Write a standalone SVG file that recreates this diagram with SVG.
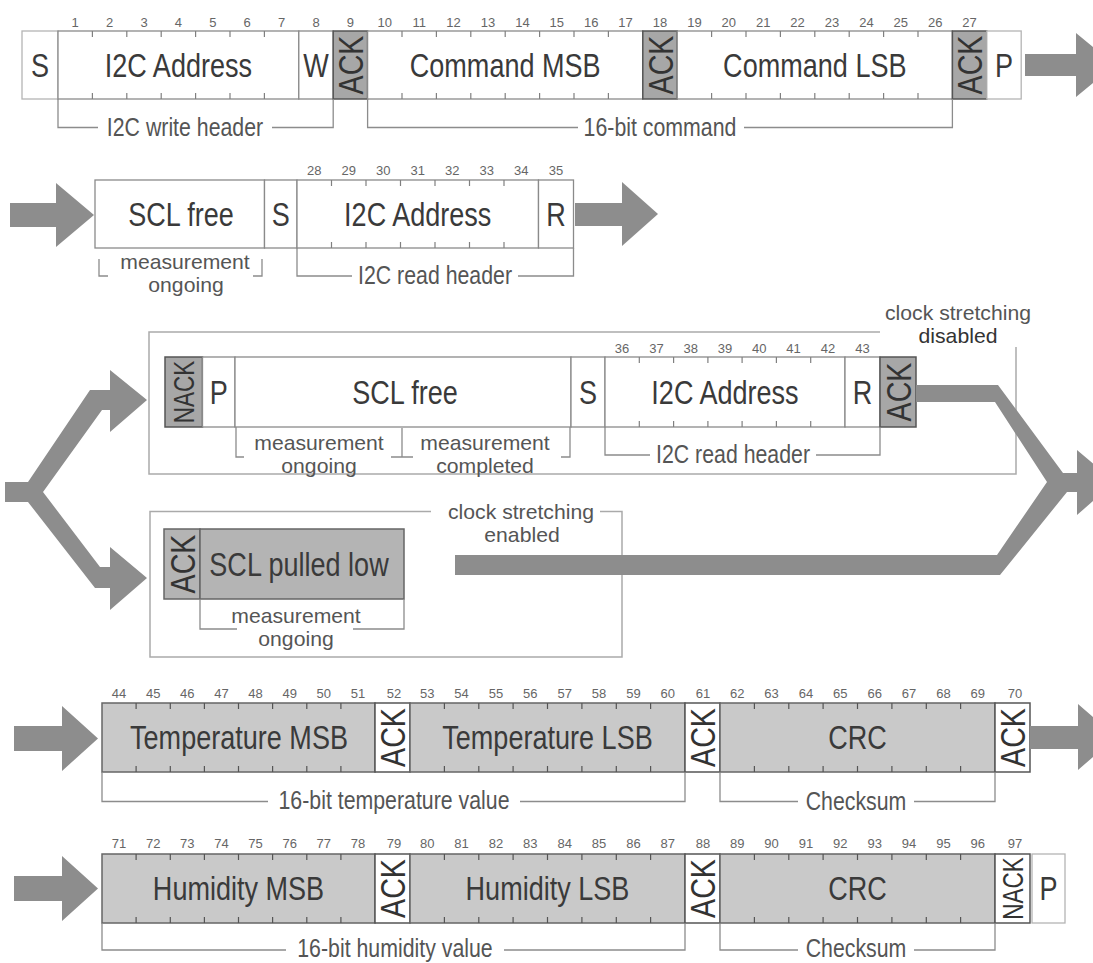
<svg xmlns="http://www.w3.org/2000/svg" width="1093" height="963" viewBox="0 0 1093 963">
<style>
text{font-family:"Liberation Sans",Arial,sans-serif;text-anchor:middle}
.m{font-size:33px;fill:#3a3a3a}
.n{font-size:13px;fill:#666}
.l{font-size:26px;fill:#555}
.l2{font-size:20px;fill:#555}
.v{font-size:35px;fill:#333}
.vn{font-size:30px;fill:#333}
.dk{fill:#333}
.f{fill:#fff;stroke:#8a8a8a;stroke-width:1.3}
.fl{fill:#fff;stroke:#b4b4b4;stroke-width:1.3}
.fw{fill:#fff;stroke:#555;stroke-width:1.5}
.g1{fill:#a7a7a7;stroke:#555;stroke-width:1.5}
.g2{fill:#c9c9c9;stroke:#666;stroke-width:1.5}
.g3{fill:#b4b4b4;stroke:#666;stroke-width:1.5}
.tk{fill:none;stroke:#808080;stroke-width:1.2}
.tkd{fill:none;stroke:#555;stroke-width:1.2}
.br{fill:none;stroke:#8c8c8c;stroke-width:1.3}
.ob{fill:none;stroke:#aaa;stroke-width:1.5}
.ar{fill:#8d8d8d}
</style>
<rect width="1093" height="963" fill="#fff"/>

<!-- outer frames -->
<g id="frame-stretch-disabled">
<path class="ob" d="M880 332H149V474H1016V347"/>
<text class="l2" transform="translate(958,320) scale(1.06,1)">clock stretching</text>
<text class="l2 dk" transform="translate(958,342.5) scale(1.06,1)">disabled</text>
</g>
<g id="frame-stretch-enabled">
<path class="ob" d="M431 511.5H150V657H622V511.5H600"/>
<text class="l2" transform="translate(521,519) scale(1.06,1)">clock stretching</text>
<text class="l2" transform="translate(522,541.5) scale(1.06,1)">enabled</text>
</g>

<!-- Row 1 -->
<g id="r1-start"><rect class="fl" x="22" y="31" width="36" height="68"/><text class="m" transform="translate(40,76.8) scale(.82,1)">S</text></g>
<g id="r1-addr"><rect class="f" x="58" y="31" width="240.8" height="68"/>
<path class="tk" d="M92.4 31v6M126.8 31v6M161.2 31v6M195.6 31v6M230 31v6M264.4 31v6M92.4 99v-6M126.8 99v-6M161.2 99v-6M195.6 99v-6M230 99v-6M264.4 99v-6"/>
<text class="m" transform="translate(178.4,76.8) scale(.82,1)">I2C Address</text></g>
<g id="r1-w"><rect class="f" x="298.8" y="31" width="34.4" height="68"/><text class="m" transform="translate(316,76.8) scale(.82,1)">W</text></g>
<g id="r1-ack1"><rect class="g1" x="333.2" y="31" width="34.4" height="68"/><text class="v" transform="translate(350.4,65) rotate(-90) scale(.82,1)" y="12.5">ACK</text></g>
<g id="r1-cmsb"><rect class="f" x="367.6" y="31" width="275.2" height="68"/>
<path class="tk" d="M402 31v6M436.4 31v6M470.8 31v6M505.2 31v6M539.6 31v6M574 31v6M608.4 31v6M402 99v-6M436.4 99v-6M470.8 99v-6M505.2 99v-6M539.6 99v-6M574 99v-6M608.4 99v-6"/>
<text class="m" transform="translate(505.2,76.8) scale(.82,1)">Command MSB</text></g>
<g id="r1-ack2"><rect class="g1" x="642.8" y="31" width="34.4" height="68"/><text class="v" transform="translate(660,65) rotate(-90) scale(.82,1)" y="12.5">ACK</text></g>
<g id="r1-clsb"><rect class="f" x="677.2" y="31" width="275.2" height="68"/>
<path class="tk" d="M711.6 31v6M746 31v6M780.4 31v6M814.8 31v6M849.2 31v6M883.6 31v6M918 31v6M711.6 99v-6M746 99v-6M780.4 99v-6M814.8 99v-6M849.2 99v-6M883.6 99v-6M918 99v-6"/>
<text class="m" transform="translate(814.8,76.8) scale(.82,1)">Command LSB</text></g>
<g id="r1-ack3"><rect class="g1" x="952.4" y="31" width="34.4" height="68"/><text class="v" transform="translate(969.6,65) rotate(-90) scale(.82,1)" y="12.5">ACK</text></g>
<g id="r1-stop"><rect class="fl" x="986.8" y="31" width="34.4" height="68"/><text class="m" transform="translate(1004,76.8) scale(.82,1)">P</text></g>
<g id="r1-bits">
<text class="n" x="75.2" y="27">1</text><text class="n" x="109.6" y="27">2</text><text class="n" x="144" y="27">3</text><text class="n" x="178.4" y="27">4</text><text class="n" x="212.8" y="27">5</text><text class="n" x="247.2" y="27">6</text><text class="n" x="281.6" y="27">7</text><text class="n" x="316" y="27">8</text><text class="n" x="350.4" y="27">9</text>
<text class="n" x="384.8" y="27">10</text><text class="n" x="419.2" y="27">11</text><text class="n" x="453.6" y="27">12</text><text class="n" x="488" y="27">13</text><text class="n" x="522.4" y="27">14</text><text class="n" x="556.8" y="27">15</text><text class="n" x="591.2" y="27">16</text><text class="n" x="625.6" y="27">17</text><text class="n" x="660" y="27">18</text>
<text class="n" x="694.4" y="27">19</text><text class="n" x="728.8" y="27">20</text><text class="n" x="763.2" y="27">21</text><text class="n" x="797.6" y="27">22</text><text class="n" x="832" y="27">23</text><text class="n" x="866.4" y="27">24</text><text class="n" x="900.8" y="27">25</text><text class="n" x="935.2" y="27">26</text><text class="n" x="969.6" y="27">27</text>
</g>
<g id="r1-write-header"><path class="br" d="M58 99V127.5H98M272 127.5H333.2V99"/><text class="l" transform="translate(185,136) scale(.82,1)">I2C write header</text></g>
<g id="r1-command"><path class="br" d="M367.6 99V127.5H578M744 127.5H952.4V99"/><text class="l" transform="translate(660,136) scale(.82,1)">16-bit command</text></g>

<!-- Row 2 -->
<g id="r2-sclfree"><rect class="f" x="95" y="180" width="169.5" height="68"/><text class="m" transform="translate(181,225.8) scale(.82,1)">SCL free</text></g>
<g id="r2-start"><rect class="f" x="264.5" y="180" width="32.5" height="68"/><text class="m" transform="translate(280.7,225.8) scale(.82,1)">S</text></g>
<g id="r2-addr"><rect class="f" x="297" y="180" width="241.5" height="68"/>
<path class="tk" d="M331.5 180v6M366 180v6M400.5 180v6M435 180v6M469.5 180v6M504 180v6M331.5 248v-6M366 248v-6M400.5 248v-6M435 248v-6M469.5 248v-6M504 248v-6"/>
<text class="m" transform="translate(417.75,225.8) scale(.82,1)">I2C Address</text></g>
<g id="r2-read"><rect class="f" x="538.5" y="180" width="35" height="68"/><text class="m" transform="translate(556,225.8) scale(.82,1)">R</text></g>
<g id="r2-bits">
<text class="n" x="314.25" y="175">28</text><text class="n" x="348.75" y="175">29</text><text class="n" x="383.25" y="175">30</text><text class="n" x="417.75" y="175">31</text><text class="n" x="452.25" y="175">32</text><text class="n" x="486.75" y="175">33</text><text class="n" x="521.25" y="175">34</text><text class="n" x="556" y="175">35</text>
</g>
<g id="r2-meas"><path class="br" d="M99 259V276H108M253 276H262V259"/>
<text class="l2" transform="translate(185,269) scale(1.06,1)">measurement</text>
<text class="l2" transform="translate(186,291.5) scale(1.06,1)">ongoing</text></g>
<g id="r2-read-header"><path class="br" d="M297 248V276H352M518 276H573.5V248"/><text class="l" transform="translate(435,284) scale(.82,1)">I2C read header</text></g>

<!-- Row 3 -->
<g id="r3-nack"><rect class="g1" x="165" y="357" width="37.5" height="70"/><text class="vn" transform="translate(183.7,392) rotate(-90) scale(.75,1)" y="10.7">NACK</text></g>
<g id="r3-stop"><rect class="f" x="202.5" y="357" width="32.5" height="70"/><text class="m" transform="translate(218.7,403.8) scale(.82,1)">P</text></g>
<g id="r3-sclfree"><rect class="f" x="235" y="357" width="336" height="70"/><text class="m" transform="translate(405,403.8) scale(.82,1)">SCL free</text></g>
<g id="r3-start"><rect class="f" x="571" y="357" width="34" height="70"/><text class="m" transform="translate(588,403.8) scale(.82,1)">S</text></g>
<g id="r3-addr"><rect class="f" x="605" y="357" width="240" height="70"/>
<path class="tk" d="M639.3 357v6M673.6 357v6M707.9 357v6M742.1 357v6M776.4 357v6M810.7 357v6M639.3 427v-6M673.6 427v-6M707.9 427v-6M742.1 427v-6M776.4 427v-6M810.7 427v-6"/>
<text class="m" transform="translate(725,403.8) scale(.82,1)">I2C Address</text></g>
<g id="r3-read"><rect class="f" x="845" y="357" width="35" height="70"/><text class="m" transform="translate(862.5,403.8) scale(.82,1)">R</text></g>
<g id="r3-ack"><rect class="g1" x="880" y="357" width="36" height="70"/><text class="v" transform="translate(898,392) rotate(-90) scale(.82,1)" y="12.5">ACK</text></g>
<g id="r3-bits">
<text class="n" x="622.1" y="353">36</text><text class="n" x="656.4" y="353">37</text><text class="n" x="690.7" y="353">38</text><text class="n" x="725" y="353">39</text><text class="n" x="759.3" y="353">40</text><text class="n" x="793.6" y="353">41</text><text class="n" x="827.9" y="353">42</text><text class="n" x="862.5" y="353">43</text>
</g>
<g id="r3-meas"><path class="br" d="M236 427V457H244M402 428V457M391 457H413M561 457H570V427"/>
<text class="l2" transform="translate(319,450) scale(1.06,1)">measurement</text>
<text class="l2" transform="translate(319,472.5) scale(1.06,1)">ongoing</text>
<text class="l2" transform="translate(485,450) scale(1.06,1)">measurement</text>
<text class="l2" transform="translate(485,472.5) scale(1.06,1)">completed</text></g>
<g id="r3-read-header"><path class="br" d="M605 427V455H650M816 455H880V427"/><text class="l" transform="translate(733,463) scale(.82,1)">I2C read header</text></g>

<!-- Row 4 -->
<g id="r4-ack"><rect class="g3" x="164" y="529" width="36" height="70"/><text class="v" transform="translate(182,564) rotate(-90) scale(.82,1)" y="12.5">ACK</text></g>
<g id="r4-scllow"><rect class="g3" x="200" y="529" width="204" height="70"/><text class="m" transform="translate(299,575.8) scale(.82,1)">SCL pulled low</text></g>
<g id="r4-meas"><path class="br" d="M200 599V629H237M353 629H404V599"/>
<text class="l2" transform="translate(296,623) scale(1.06,1)">measurement</text>
<text class="l2" transform="translate(296,645.5) scale(1.06,1)">ongoing</text></g>

<!-- Row 5 -->
<g id="r5-tmsb"><rect class="g2" x="102" y="703" width="273" height="69"/>
<path class="tkd" d="M136.1 703v6M170.3 703v6M204.4 703v6M238.5 703v6M272.6 703v6M306.8 703v6M340.9 703v6M136.1 772v-6M170.3 772v-6M204.4 772v-6M238.5 772v-6M272.6 772v-6M306.8 772v-6M340.9 772v-6"/>
<text class="m" transform="translate(239,749.3) scale(.82,1)">Temperature MSB</text></g>
<g id="r5-ack1"><rect class="fw" x="375" y="703" width="35" height="69"/><text class="v" transform="translate(392.5,737.5) rotate(-90) scale(.82,1)" y="12.5">ACK</text></g>
<g id="r5-tlsb"><rect class="g2" x="410" y="703" width="275" height="69"/>
<path class="tkd" d="M444.4 703v6M478.8 703v6M513.1 703v6M547.5 703v6M581.9 703v6M616.3 703v6M650.6 703v6M444.4 772v-6M478.8 772v-6M513.1 772v-6M547.5 772v-6M581.9 772v-6M616.3 772v-6M650.6 772v-6"/>
<text class="m" transform="translate(547.5,749.3) scale(.82,1)">Temperature LSB</text></g>
<g id="r5-ack2"><rect class="fw" x="685" y="703" width="35" height="69"/><text class="v" transform="translate(702.5,737.5) rotate(-90) scale(.82,1)" y="12.5">ACK</text></g>
<g id="r5-crc"><rect class="g2" x="720" y="703" width="275" height="69"/>
<path class="tkd" d="M754.4 703v6M788.8 703v6M823.1 703v6M857.5 703v6M891.9 703v6M926.3 703v6M960.6 703v6M754.4 772v-6M788.8 772v-6M823.1 772v-6M857.5 772v-6M891.9 772v-6M926.3 772v-6M960.6 772v-6"/>
<text class="m" transform="translate(857.5,749.3) scale(.82,1)">CRC</text></g>
<g id="r5-ack3"><rect class="fw" x="995" y="703" width="35" height="69"/><text class="v" transform="translate(1012.5,737.5) rotate(-90) scale(.82,1)" y="12.5">ACK</text></g>
<g id="r5-bits">
<text class="n" x="119.1" y="698">44</text><text class="n" x="153.2" y="698">45</text><text class="n" x="187.3" y="698">46</text><text class="n" x="221.4" y="698">47</text><text class="n" x="255.6" y="698">48</text><text class="n" x="289.7" y="698">49</text><text class="n" x="323.8" y="698">50</text><text class="n" x="357.9" y="698">51</text><text class="n" x="394" y="698">52</text>
<text class="n" x="427.2" y="698">53</text><text class="n" x="461.6" y="698">54</text><text class="n" x="495.9" y="698">55</text><text class="n" x="530.3" y="698">56</text><text class="n" x="564.7" y="698">57</text><text class="n" x="599.1" y="698">58</text><text class="n" x="633.4" y="698">59</text><text class="n" x="667.8" y="698">60</text><text class="n" x="703" y="698">61</text>
<text class="n" x="737.2" y="698">62</text><text class="n" x="771.6" y="698">63</text><text class="n" x="805.9" y="698">64</text><text class="n" x="840.3" y="698">65</text><text class="n" x="874.7" y="698">66</text><text class="n" x="909.1" y="698">67</text><text class="n" x="943.4" y="698">68</text><text class="n" x="977.8" y="698">69</text><text class="n" x="1015" y="698">70</text>
</g>
<g id="r5-temp-value"><path class="br" d="M102 772V801.5H268M520 801.5H685V772"/><text class="l" transform="translate(394,809) scale(.82,1)">16-bit temperature value</text></g>
<g id="r5-checksum"><path class="br" d="M720 772V801.5H798M914 801.5H995V772"/><text class="l" transform="translate(856,810) scale(.82,1)">Checksum</text></g>

<!-- Row 6 -->
<g id="r6-hmsb"><rect class="g2" x="102" y="854" width="273" height="69"/>
<path class="tkd" d="M136.1 854v6M170.3 854v6M204.4 854v6M238.5 854v6M272.6 854v6M306.8 854v6M340.9 854v6M136.1 923v-6M170.3 923v-6M204.4 923v-6M238.5 923v-6M272.6 923v-6M306.8 923v-6M340.9 923v-6"/>
<text class="m" transform="translate(238.5,900.3) scale(.82,1)">Humidity MSB</text></g>
<g id="r6-ack1"><rect class="fw" x="375" y="854" width="35" height="69"/><text class="v" transform="translate(392.5,888.5) rotate(-90) scale(.82,1)" y="12.5">ACK</text></g>
<g id="r6-hlsb"><rect class="g2" x="410" y="854" width="275" height="69"/>
<path class="tkd" d="M444.4 854v6M478.8 854v6M513.1 854v6M547.5 854v6M581.9 854v6M616.3 854v6M650.6 854v6M444.4 923v-6M478.8 923v-6M513.1 923v-6M547.5 923v-6M581.9 923v-6M616.3 923v-6M650.6 923v-6"/>
<text class="m" transform="translate(547.5,900.3) scale(.82,1)">Humidity LSB</text></g>
<g id="r6-ack2"><rect class="fw" x="685" y="854" width="35" height="69"/><text class="v" transform="translate(702.5,888.5) rotate(-90) scale(.82,1)" y="12.5">ACK</text></g>
<g id="r6-crc"><rect class="g2" x="720" y="854" width="275" height="69"/>
<path class="tkd" d="M754.4 854v6M788.8 854v6M823.1 854v6M857.5 854v6M891.9 854v6M926.3 854v6M960.6 854v6M754.4 923v-6M788.8 923v-6M823.1 923v-6M857.5 923v-6M891.9 923v-6M926.3 923v-6M960.6 923v-6"/>
<text class="m" transform="translate(857.5,900.3) scale(.82,1)">CRC</text></g>
<g id="r6-nack"><rect class="fw" x="995" y="854" width="35" height="69"/><text class="vn" transform="translate(1012.5,888.5) rotate(-90) scale(.75,1)" y="10.7">NACK</text></g>
<g id="r6-stop"><rect class="fl" x="1032" y="854" width="33" height="69"/><text class="m" transform="translate(1048.5,900.3) scale(.82,1)">P</text></g>
<g id="r6-bits">
<text class="n" x="119.1" y="848">71</text><text class="n" x="153.2" y="848">72</text><text class="n" x="187.3" y="848">73</text><text class="n" x="221.4" y="848">74</text><text class="n" x="255.6" y="848">75</text><text class="n" x="289.7" y="848">76</text><text class="n" x="323.8" y="848">77</text><text class="n" x="357.9" y="848">78</text><text class="n" x="394" y="848">79</text>
<text class="n" x="427.2" y="848">80</text><text class="n" x="461.6" y="848">81</text><text class="n" x="495.9" y="848">82</text><text class="n" x="530.3" y="848">83</text><text class="n" x="564.7" y="848">84</text><text class="n" x="599.1" y="848">85</text><text class="n" x="633.4" y="848">86</text><text class="n" x="667.8" y="848">87</text><text class="n" x="703" y="848">88</text>
<text class="n" x="737.2" y="848">89</text><text class="n" x="771.6" y="848">90</text><text class="n" x="805.9" y="848">91</text><text class="n" x="840.3" y="848">92</text><text class="n" x="874.7" y="848">93</text><text class="n" x="909.1" y="848">94</text><text class="n" x="943.4" y="848">95</text><text class="n" x="977.8" y="848">96</text><text class="n" x="1015" y="848">97</text>
</g>
<g id="r6-hum-value"><path class="br" d="M102 923V950H286M504 950H685V923"/><text class="l" transform="translate(395,957) scale(.82,1)">16-bit humidity value</text></g>
<g id="r6-checksum"><path class="br" d="M720 923V950H798M914 950H995V923"/><text class="l" transform="translate(856,957) scale(.82,1)">Checksum</text></g>

<!-- connectors -->
<g id="connectors" class="ar">
<polygon points="1025,54 1076,54 1076,33 1115,65 1076,97 1076,76 1025,76"/>
<polygon points="10,203 56,203 56,183 94,215 56,247 56,227 10,227"/>
<polygon points="575,203 622,203 622,182 658,214 622,246 622,226 575,226"/>
<polygon points="5,482 28,482 90,390 110,390 110,370 147,400 110,432 110,410 102,410 43,492 100,567 110,567 110,547 147,578 110,610 110,588 95,588 28,502 5,502"/>
<polygon points="916,385 998,385 1063,473 1077,473 1077,450 1115,482 1077,515 1077,492 1067,492 1000,575 455,575 455,555 997,555 1047,482 995,402 916,402"/>
<polygon points="14,726 62,726 62,706 98,738.5 62,771 62,751 14,751"/>
<polygon points="1030,726 1078,726 1078,704 1116,737 1078,770 1078,749 1030,749"/>
<polygon points="14,876 62,876 62,856 98,888.5 62,921 62,901 14,901"/>
</g>
</svg>
